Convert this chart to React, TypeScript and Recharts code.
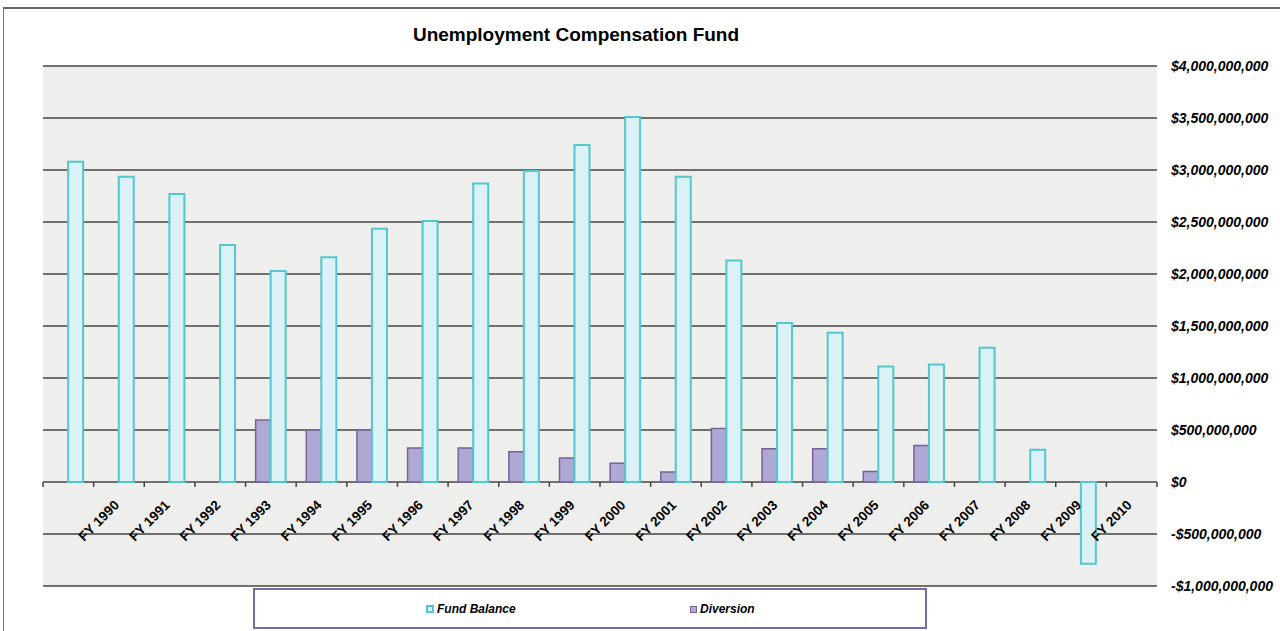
import { BarChart, Bar, XAxis, YAxis, CartesianGrid } from "recharts";

const categories = [
  "", "FY 1990", "FY 1991", "FY 1992", "FY 1993", "FY 1994", "FY 1995", "FY 1996",
  "FY 1997", "FY 1998", "FY 1999", "FY 2000", "FY 2001", "FY 2002", "FY 2003",
  "FY 2004", "FY 2005", "FY 2006", "FY 2007", "FY 2008", "FY 2009", "FY 2010",
];

const fundBalance = [
  3.08e9, 2.935e9, 2.77e9, 2.28e9, 2.03e9, 2.16e9, 2.435e9, 2.51e9, 2.87e9, 2.99e9,
  3.24e9, 3.51e9, 2.935e9, 2.13e9, 1.53e9, 1.435e9, 1.11e9, 1.13e9, 1.29e9, 0.31e9,
  -0.785e9, null,
];

const diversion = [
  null, null, null, null, 0.595e9, 0.5e9, 0.5e9, 0.327e9, 0.327e9, 0.29e9, 0.23e9,
  0.18e9, 0.096e9, 0.515e9, 0.32e9, 0.32e9, 0.1e9, 0.35e9, null, null, null, null,
];

const yTicks = [-1e9, -5e8, 0, 5e8, 1e9, 1.5e9, 2e9, 2.5e9, 3e9, 3.5e9, 4e9];

const data = categories.map((name, i) => ({
  name,
  fund: fundBalance[i],
  diversion: diversion[i],
}));

const W = 1280;
const H = 631;
const M = { top: 66, left: 43 };
const Y_AXIS_W = 123;
const X_AXIS_H = 45;
const PLOT_W = W - M.left - Y_AXIS_W;
const PLOT_H = H - M.top - X_AXIS_H;
const Y_MIN = -1e9;
const Y_MAX = 4e9;
const ZERO_OFFSET = (PLOT_H * (0 - Y_MIN)) / (Y_MAX - Y_MIN);
const BAND = PLOT_W / categories.length;

const FONT = "'Liberation Sans', Arial, sans-serif";

const fmt = (v: number) =>
  (v < 0 ? "-$" : "$") + Math.abs(v).toLocaleString("en-US");

function CategoryTick(props: any) {
  const { x, y, payload, index } = props;
  const zy = y - ZERO_OFFSET;
  const last = index === categories.length - 1;
  return (
    <g>
      <line x1={x - BAND / 2} x2={x - BAND / 2} y1={zy} y2={zy + 5} stroke="#444" strokeWidth={1.5} />
      {last && (
        <line x1={x + BAND / 2} x2={x + BAND / 2} y1={zy} y2={zy + 5} stroke="#444" strokeWidth={1.5} />
      )}
      <g transform={`translate(${x + 1},${zy + 24})`}>
        <text
          textAnchor="end"
          transform="rotate(-45)"
          fontFamily={FONT}
          fontSize={13.5}
          fontWeight="bold"
          fill="#000"
        >
          {payload.value}
        </text>
      </g>
    </g>
  );
}

export default function App() {
  return (
    <div
      style={{
        position: "absolute",
        left: 0,
        top: 0,
        width: W,
        height: H,
        background: "#fff",
        overflow: "hidden",
        fontFamily: FONT,
      }}
    >
      <div
        style={{
          position: "absolute",
          left: 3,
          top: 7,
          right: 0,
          bottom: 0,
          borderTop: "2px solid #666",
          borderLeft: "1px solid #777",
        }}
      />
      <div
        style={{
          position: "absolute",
          left: 576,
          top: 24,
          transform: "translateX(-50%)",
          fontSize: 19,
          fontWeight: "bold",
          whiteSpace: "nowrap",
          color: "#000",
        }}
      >
        Unemployment Compensation Fund
      </div>
      <div style={{ position: "absolute", left: 0, top: 0 }}>
        <BarChart
          width={W}
          height={H}
          data={data}
          margin={{ top: M.top, left: M.left, right: 0, bottom: 0 }}
          barCategoryGap="20%"
          barGap={0}
        >
          <CartesianGrid
            vertical={false}
            stroke="#444"
            strokeWidth={1.5}
            strokeOpacity={1}
            fill="#EEEEEC"
            fillOpacity={1}
          />
          <XAxis
            dataKey="name"
            interval={0}
            height={X_AXIS_H}
            axisLine={false}
            tickLine={false}
            tickSize={0}
            tickMargin={0}
            tick={<CategoryTick />}
          />
          <YAxis
            orientation="right"
            width={Y_AXIS_W}
            domain={[Y_MIN, Y_MAX]}
            ticks={yTicks}
            axisLine={false}
            tickLine={false}
            tickSize={0}
            tickMargin={14}
            tickFormatter={fmt}
            tick={{
              fontFamily: FONT,
              fontSize: 14,
              fontWeight: "bold",
              fontStyle: "italic",
              fill: "#000",
            }}
          />
          <Bar
            dataKey="diversion"
            fill="#ADA9D4"
            stroke="#7A5F98"
            strokeWidth={1.5}
            isAnimationActive={false}
          />
          <Bar
            dataKey="fund"
            fill="#DAF1F5"
            stroke="#52C7CE"
            strokeWidth={2}
            isAnimationActive={false}
          />
        </BarChart>
      </div>
      <div
        style={{
          position: "absolute",
          left: 253,
          top: 588,
          width: 670,
          height: 37,
          border: "2px solid #7B6A9D",
          background: "#fff",
          boxSizing: "content-box",
          fontSize: 12,
          fontWeight: "bold",
          fontStyle: "italic",
          color: "#000",
        }}
      >
        <div style={{ position: "absolute", left: 171, top: 12, display: "flex", alignItems: "center" }}>
          <span
            style={{
              display: "inline-block",
              width: 4,
              height: 4,
              border: "2px solid #52C7CE",
              background: "#DAF1F5",
              marginRight: 3,
            }}
          />
          Fund Balance
        </div>
        <div style={{ position: "absolute", left: 435, top: 12, display: "flex", alignItems: "center" }}>
          <span
            style={{
              display: "inline-block",
              width: 5,
              height: 5,
              border: "1px solid #7A5F98",
              background: "#ADA9D4",
              marginRight: 3,
            }}
          />
          Diversion
        </div>
      </div>
    </div>
  );
}
